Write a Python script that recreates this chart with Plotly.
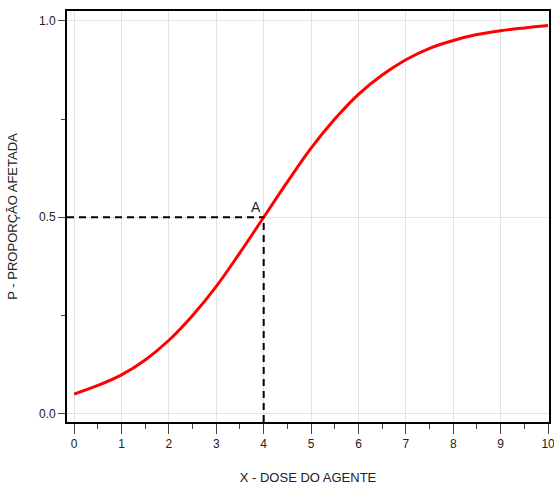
import plotly.graph_objects as go

# Values
dose = [0, 0.5, 1, 1.5, 2, 2.5, 3, 3.5, 4, 4.5, 5, 5.5, 6, 6.5, 7, 7.5, 8, 8.5, 9, 9.5, 10]
proportion = [0.05, 0.072, 0.099, 0.137, 0.187, 0.25, 0.324, 0.41, 0.5, 0.59, 0.676,
              0.75, 0.813, 0.862, 0.901, 0.93, 0.95, 0.965, 0.975, 0.982, 0.988]

point_a_x = 4
point_a_y = 0.5
x_min, x_max = -0.15, 10.02
y_min, y_max = -0.021, 1.025

x_ticks = list(range(0, 11))
y_ticks = [0.0, 0.5, 1.0]
y_tick_labels = ["0.0", "0.5", "1.0"]

fig = go.Figure()

fig.add_trace(go.Scatter(x=dose, y=proportion, mode="lines",
                         line=dict(color="#ff0000", width=3, shape="spline"),
                         hoverinfo="skip", showlegend=False))

# dashed guides
fig.add_trace(go.Scatter(x=[x_min, point_a_x], y=[point_a_y, point_a_y], mode="lines",
                         line=dict(color="black", width=2, dash="7px,5px"),
                         showlegend=False, hoverinfo="skip"))
fig.add_trace(go.Scatter(x=[point_a_x, point_a_x], y=[y_min, point_a_y], mode="lines",
                         line=dict(color="black", width=2, dash="7px,5px"),
                         showlegend=False, hoverinfo="skip"))

fig.add_annotation(x=3.84, y=0.526, text="A", showarrow=False,
                   font=dict(family="Liberation Sans, Arial", size=14, color="#222222"))

axis_common = dict(showline=True, linecolor="black", linewidth=2, mirror=True,
                   showgrid=True, gridcolor="#e3e3e3", gridwidth=1, zeroline=False,
                   ticks="outside", tickcolor="#444444", automargin=False,
                   ticklabeloverflow="allow",
                   tickfont=dict(family="Liberation Sans, Arial", size=12, color="#222222"))

fig.update_xaxes(range=[x_min, x_max], tickvals=x_ticks, ticklen=10, tickwidth=1,
                 minor=dict(dtick=0.5, tick0=0, ticks="outside", ticklen=5, tickcolor="#444444", showgrid=False),
                 title=dict(text="X - DOSE DO AGENTE", standoff=22,
                            font=dict(family="Liberation Sans, Arial", size=13, color="#222222")),
                 **axis_common)
fig.update_yaxes(range=[y_min, y_max], tickvals=y_ticks, ticktext=y_tick_labels, ticklen=7, tickwidth=1,
                 minor=dict(dtick=0.25, tick0=0, ticks="outside", ticklen=4, tickcolor="#444444", showgrid=False),
                 title=dict(text="P - PROPORÇÃO AFETADA", standoff=18,
                            font=dict(family="Liberation Sans, Arial", size=13, color="#222222")),
                 **axis_common)

fig.update_layout(width=554, height=488, margin=dict(l=67, r=5, t=11, b=66),
                  plot_bgcolor="white", paper_bgcolor="white", showlegend=False)

# remove the default 8px page margin so the figure fills the window exactly
fig.write_html("out.html", config={"displayModeBar": False},
               post_script="document.body.style.margin='0';document.body.style.overflow='hidden';")
